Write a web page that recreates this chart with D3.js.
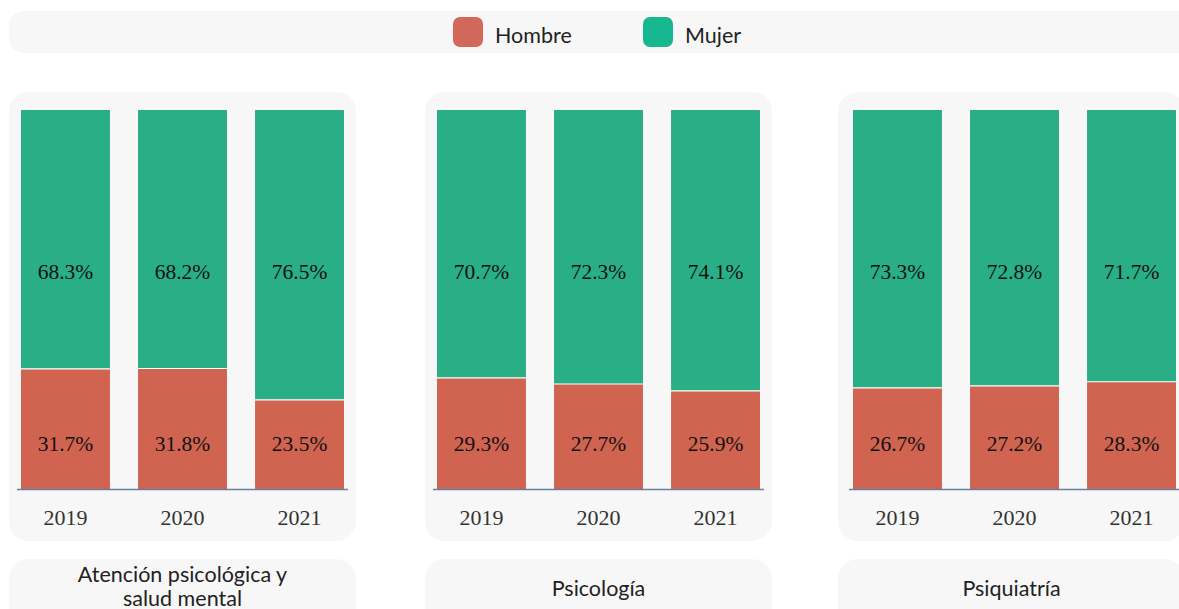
<!DOCTYPE html>
<html lang="es">
<head>
<meta charset="UTF-8">
<title>Hombre / Mujer</title>
<script src="https://d3js.org/d3.v7.min.js"></script>
<style>
  body { margin: 0; background: #fff; overflow: hidden; }
  svg { display: block; }
</style>
</head>
<body>
<div id="chart"></div>
<script>
// data
const years = ["2019", "2020", "2021"];
const panels = ["Atención psicológica y|salud mental", "Psicología", "Psiquiatría"];
const hombre = [
  [31.7, 31.8, 23.5],
  [29.3, 27.7, 25.9],
  [26.7, 27.2, 28.3]
];
const mujer = [
  [68.3, 68.2, 76.5],
  [70.7, 72.3, 74.1],
  [73.3, 72.8, 71.7]
];
const seriesNames = ["Hombre", "Mujer"];
const barColors = ["#d06451", "#2aae86"];
const legendColors = ["#d2675a", "#17b890"];

const W = 1179, H = 609;
const svg = d3.select("#chart").append("svg").attr("width", W).attr("height", H);

const sans = "Lato, 'Open Sans', sans-serif";
const serif = "'Liberation Serif', 'DejaVu Serif', serif";

// legend bar
svg.append("rect").attr("x", 9).attr("y", 11).attr("width", 1190).attr("height", 42)
  .attr("rx", 14).attr("fill", "#f7f7f7");
const legendX = [453, 643];
seriesNames.forEach((name, i) => {
  svg.append("rect").attr("x", legendX[i]).attr("y", 17).attr("width", 30).attr("height", 30)
    .attr("rx", 7).attr("fill", legendColors[i]);
  svg.append("text").attr("x", legendX[i] + 42).attr("y", 43)
    .attr("font-family", sans).attr("font-size", 21.5).attr("fill", "#222").text(name);
});

// panels
const panelX = [9, 425, 838];
const barInset = [12, 12, 15];
const panelW = 347;
const y = d3.scaleLinear().domain([0, 100]).range([489, 110]);

panels.forEach((title, p) => {
  const px = panelX[p];
  const g = svg.append("g").attr("transform", `translate(${px},0)`);

  g.append("rect").attr("x", 0).attr("y", 92).attr("width", panelW).attr("height", 449)
    .attr("rx", 20).attr("fill", "#f7f7f7");

  const x = d3.scaleBand().domain(years).range([barInset[p], barInset[p] + 323])
    .paddingInner(0.24).paddingOuter(0);

  years.forEach((yr, i) => {
    const h = hombre[p][i], m = mujer[p][i];
    // Hombre segment (bottom)
    g.append("rect").attr("x", x(yr)).attr("y", y(h)).attr("width", x.bandwidth())
      .attr("height", y(0) - y(h)).attr("fill", barColors[0]);
    // Mujer segment (top)
    g.append("rect").attr("x", x(yr)).attr("y", y(h + m)).attr("width", x.bandwidth())
      .attr("height", y(h) - y(h + m)).attr("fill", barColors[1]);
    // separator
    g.append("line").attr("x1", x(yr)).attr("x2", x(yr) + x.bandwidth())
      .attr("y1", y(h)).attr("y2", y(h)).attr("stroke", "#fff").attr("stroke-width", 1.2);

    const cx = x(yr) + x.bandwidth() / 2;
    g.append("text").attr("x", cx).attr("y", y(57.5)).attr("dy", "0.35em")
      .attr("text-anchor", "middle").attr("font-family", serif).attr("font-size", 21.5)
      .attr("fill", "#111").text(m.toFixed(1) + "%");
    g.append("text").attr("x", cx).attr("y", y(12)).attr("dy", "0.35em")
      .attr("text-anchor", "middle").attr("font-family", serif).attr("font-size", 21.5)
      .attr("fill", "#111").text(h.toFixed(1) + "%");
  });

  // x axis
  const ax = g.append("g").attr("transform", `translate(0,${y(0)})`)
    .call(d3.axisBottom(x).tickSize(0).tickPadding(20));
  ax.select(".domain").attr("d", `M${barInset[p] - 4},0.5H${barInset[p] + 327}`)
    .attr("stroke", "#6a7f9c").attr("stroke-width", 1.3);
  ax.selectAll("text").attr("font-family", serif).attr("font-size", 22).attr("fill", "#333");

  // title box
  g.append("rect").attr("x", 0).attr("y", 559).attr("width", panelW).attr("height", 70)
    .attr("rx", 20).attr("fill", "#f7f7f7");
  const lines = title.split("|");
  const t = g.append("text").attr("x", panelW / 2).attr("text-anchor", "middle")
    .attr("font-family", sans).attr("font-size", 21.5).attr("fill", "#222");
  if (lines.length === 1) {
    t.attr("y", 596).text(lines[0]);
  } else {
    lines.forEach((l, k) => t.append("tspan").attr("x", panelW / 2).attr("y", 582 + k * 24).text(l));
  }
});
</script>
</body>
</html>
